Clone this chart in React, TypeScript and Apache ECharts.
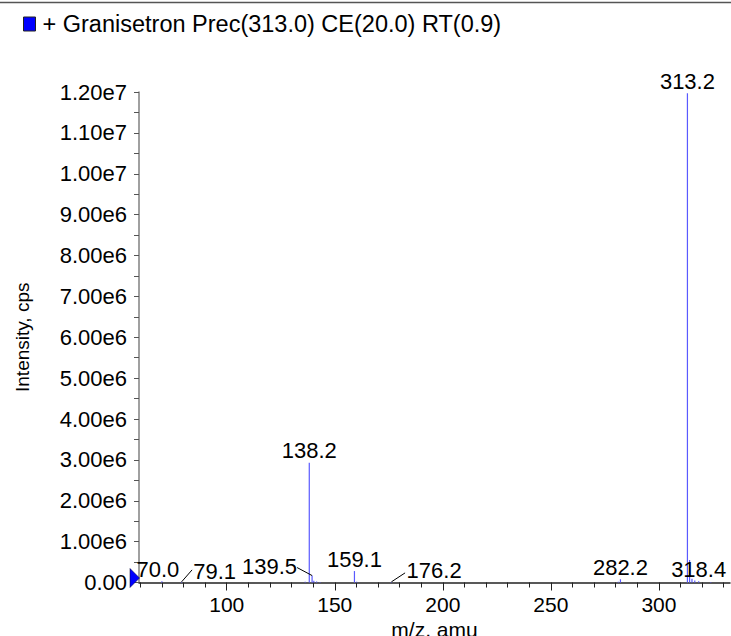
import React, { useEffect, useRef } from "react";
import * as echarts from "echarts";

// ---- data ----
const seriesName = "+ Granisetron Prec(313.0) CE(20.0) RT(0.9)";
const peakMz = [70.0, 79.1, 136.3, 138.2, 139.5, 140.3, 141.6, 143.2, 159.1, 160.1, 176.2, 281.2, 282.2, 313.2, 314.2, 315.3, 316.6, 318.4, 324.0];
const peakIntensity = [3.0e4, 1.5e4, 2.0e4, 2.93e6, 1.7e5, 4.0e4, 2.5e4, 1.5e4, 2.8e5, 2.0e4, 1.5e4, 2.0e4, 8.0e4, 1.197e7, 5.5e5, 9.0e4, 5.0e4, 3.0e4, 1.5e4];
const labeledMz = [70.0, 79.1, 138.2, 139.5, 159.1, 176.2, 282.2, 313.2, 318.4];
const xMajorTicks = [100, 150, 200, 250, 300];
const xMinorTicks = [60, 70, 80, 90, 110, 120, 130, 140, 160, 170, 180, 190, 210, 220, 230, 240, 260, 270, 280, 290, 310, 320, 330];
const xRange = [59.4, 332.9];
const yRange = [0, 1.2e7];
const yInterval = 1e6;

// label placement (pixels): [dx, dy, leaderDx, leaderDy] relative to the peak top; leader 0 = none
const labelPlacement: Record<string, number[]> = {
  "70.0": [-4, 0, 0, 0],
  "79.1": [33, 2, 10.5, -12],
  "139.5": [-42.5, 3, -15, -8],
  "176.2": [42.7, 1, 13.7, -9],
};

const FONT = '"Liberation Sans", Arial, Helvetica, sans-serif';
const STICK = "#5a5aff";

export default function App() {
  const ref = useRef<HTMLDivElement>(null);
  useEffect(() => {
    if (!ref.current) return;
    const chart = echarts.init(ref.current, undefined, { renderer: "svg" });
    const stickData = peakMz.map((m, i) => [m, peakIntensity[i]]);
    const labelData = labeledMz.map((m) => {
      const i = peakMz.indexOf(m);
      return [m, peakIntensity[i]];
    });
    chart.setOption({
      animation: false,
      backgroundColor: "#ffffff",
      textStyle: { fontFamily: FONT },
      legend: {
        show: true,
        left: 18,
        top: 7,
        icon: "rect",
        itemWidth: 12,
        itemHeight: 14,
        itemGap: 0,
        textStyle: { fontSize: 23.5, color: "#000", fontFamily: FONT, padding: [0, 0, 0, 2] },
        data: [{ name: seriesName, itemStyle: { color: "#0000ff", borderColor: "#222", borderWidth: 1 } }],
        selectedMode: false,
      },
      grid: { left: 139, right: 1, top: 92, bottom: 53.5, containLabel: false, outerBoundsMode: "none" },
      xAxis: [
        {
          type: "value",
          min: xRange[0],
          max: xRange[1],
          name: "m/z, amu",
          nameLocation: "middle",
          nameGap: 35,
          nameTextStyle: { fontSize: 21, color: "#000", fontFamily: FONT },
          axisLine: { show: true, onZero: false, lineStyle: { color: "#222", width: 1.5 } },
          axisTick: { show: true, customValues: xMajorTicks, length: 8, lineStyle: { color: "#222", width: 1 } },
          axisLabel: { show: true, customValues: xMajorTicks, fontSize: 21, color: "#000", margin: 11, fontFamily: FONT },
          splitLine: { show: false },
        },
        {
          type: "value",
          min: xRange[0],
          max: xRange[1],
          position: "bottom",
          axisLine: { show: false, onZero: false },
          axisTick: { show: true, customValues: xMinorTicks, length: 5, lineStyle: { color: "#222", width: 1 } },
          axisLabel: { show: false },
          splitLine: { show: false },
        },
      ],
      yAxis: {
        type: "value",
        min: yRange[0],
        max: yRange[1],
        interval: yInterval,
        name: "Intensity, cps",
        nameLocation: "middle",
        nameRotate: 90,
        nameGap: 107,
        nameTextStyle: { fontSize: 19, color: "#000", fontFamily: FONT },
        axisLine: { show: true, lineStyle: { color: "#808080", width: 1.5 } },
        axisTick: { show: true, length: 5, lineStyle: { color: "#555", width: 1 } },
        minorTick: { show: true, splitNumber: 2, length: 5, lineStyle: { color: "#555", width: 1 } },
        axisLabel: {
          fontSize: 22,
          color: "#000",
          margin: 12,
          fontFamily: FONT,
          formatter: (v: number) => (v === 0 ? "0.00" : v.toExponential(2).replace("e+", "e")),
        },
        splitLine: { show: false },
        minorSplitLine: { show: false },
      },
      series: [
        {
          name: seriesName,
          type: "custom",
          xAxisIndex: 0,
          itemStyle: { color: "#0000ff" },
          clip: false,
          data: stickData,
          renderItem: (params: any, api: any) => {
            const x = api.value(0);
            const y = api.value(1);
            const p0 = api.coord([x, 0]);
            const p1 = api.coord([x, y]);
            return {
              type: "line",
              shape: { x1: p0[0], y1: p0[1], x2: p1[0], y2: p1[1] },
              style: { stroke: STICK, lineWidth: 1.2 },
              silent: true,
            };
          },
        },
        {
          name: "labels",
          type: "custom",
          xAxisIndex: 0,
          clip: false,
          data: labelData,
          renderItem: (params: any, api: any) => {
            const x = api.value(0);
            const y = api.value(1);
            const p = api.coord([x, y]);
            const key = x.toFixed(1);
            const pl = labelPlacement[key] || [0, 0, 0, 0];
            const children: any[] = [
              {
                type: "text",
                x: p[0] + pl[0],
                y: p[1] - 1 + pl[1],
                style: {
                  text: key,
                  fill: "#000",
                  fontSize: 22,
                  fontFamily: FONT,
                  align: "center",
                  verticalAlign: "bottom",
                },
              },
            ];
            if (pl[2] !== 0 || pl[3] !== 0) {
              children.push({
                type: "line",
                shape: { x1: p[0], y1: p[1], x2: p[0] + pl[2], y2: p[1] + pl[3] },
                style: { stroke: "#000", lineWidth: 1 },
              });
            }
            return { type: "group", children };
          },
        },
      ],
    });
    const origin = chart.convertToPixel({ xAxisIndex: 0, yAxisIndex: 0 }, [xRange[0], 0]) as number[];
    chart.setOption({
      graphic: [
        {
          type: "line",
          shape: { x1: 0, y1: 2.5, x2: 731, y2: 2.5 },
          style: { stroke: "#555", lineWidth: 1.5 },
        },
        {
          type: "polygon",
          shape: {
            points: [
              [origin[0] - 9, origin[1] - 14],
              [origin[0] - 9, origin[1] + 5],
              [origin[0] + 0.5, origin[1] - 4.5],
            ],
          },
          style: { fill: "#0000ff", stroke: "#000033", lineWidth: 0.5 },
          z: 100,
        },
      ],
    });
    return () => chart.dispose();
  }, []);
  return <div ref={ref} style={{ position: "fixed", left: 0, top: 0, width: 731, height: 636 }} />;
}
